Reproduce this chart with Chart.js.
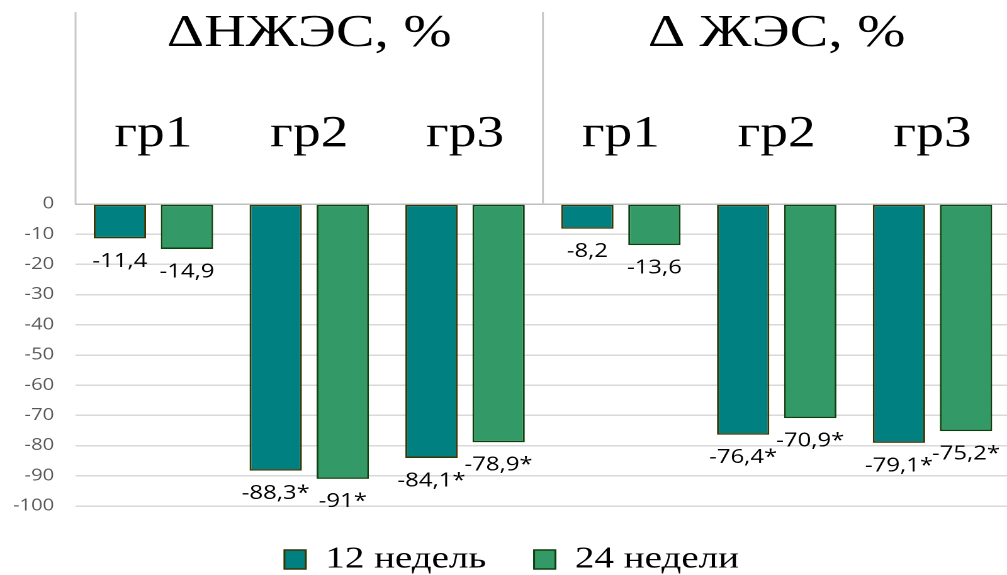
<!DOCTYPE html>
<html lang="ru">
<head>
<meta charset="utf-8">
<title>ΔНЖЭС / ΔЖЭС</title>
<script src="https://cdn.jsdelivr.net/npm/chart.js@4.4.1/dist/chart.umd.min.js"></script>
<style>
  html, body { margin: 0; padding: 0; overflow: hidden; background: #fff; }
  /* the reference is stretched horizontally, so draw narrower and scale */
  #wrap { width: 815px; height: 575px; transform: scaleX(1.25875); transform-origin: 0 0; }
</style>
</head>
<body>
<div id="wrap"><canvas id="chart"></canvas></div>
<script>
const groups = ['ΔНЖЭС, %', 'Δ ЖЭС, %'];
const categories = ['гр1', 'гр2', 'гр3', 'гр1', 'гр2', 'гр3'];
const yTicks = { min: -100, max: 0, step: 10 };

const weeks12 = [-11.4, -88.3, -84.1, -8.2, -76.4, -79.1];
const weeks24 = [-14.9, -91, -78.9, -13.6, -70.9, -75.2];
// * = significant change
const sig12 = [false, true, true, false, true, true];
const sig24 = [false, true, true, false, true, true];

const fmt = (v, s) => String(v).replace('.', ',') + (s ? '*' : '');

const headerPlugin = {
  id: 'header',
  afterDraw(chart) {
    const { ctx, chartArea, scales: { x } } = chart;
    const step = x.getPixelForValue(1) - x.getPixelForValue(0);
    const per = categories.length / groups.length;
    ctx.save();
    ctx.strokeStyle = '#c8c8c8';
    ctx.lineWidth = 1.5;
    ctx.fillStyle = '#000';
    ctx.font = '46px "Liberation Serif", "Times New Roman", serif';
    ctx.textAlign = 'center';
    ctx.textBaseline = 'alphabetic';
    groups.forEach((g, gi) => {
      const left = x.getPixelForValue(gi * per) - step / 2;
      const right = x.getPixelForValue(gi * per + per - 1) + step / 2;
      ctx.beginPath();
      ctx.moveTo(left, 12);
      ctx.lineTo(left, chartArea.top);
      ctx.stroke();
      ctx.fillText(g, (left + right) / 2, 46);
    });
    ctx.restore();
  }
};

const valueLabels = {
  id: 'valueLabels',
  afterDatasetsDraw(chart) {
    const { ctx } = chart;
    const flags = [sig12, sig24];
    ctx.save();
    ctx.fillStyle = '#000';
    ctx.font = '19px "Open Sans", sans-serif';
    ctx.textAlign = 'center';
    ctx.textBaseline = 'middle';
    chart.data.datasets.forEach((ds, di) => {
      chart.getDatasetMeta(di).data.forEach((bar, i) => {
        ctx.fillText(fmt(ds.data[i], flags[di][i]), bar.x, bar.y + 23);
      });
    });
    ctx.restore();
  }
};

new Chart(document.getElementById('chart'), {
  type: 'bar',
  data: {
    labels: categories,
    datasets: [
      {
        label: '12 недель',
        data: weeks12,
        backgroundColor: '#008080',
        borderColor: '#3a3500',
        borderWidth: 1.5,
        borderSkipped: false,
        categoryPercentage: 0.861,
        barPercentage: 0.78
      },
      {
        label: '24 недели',
        data: weeks24,
        backgroundColor: '#339966',
        borderColor: '#0c400c',
        borderWidth: 1.5,
        borderSkipped: false,
        categoryPercentage: 0.861,
        barPercentage: 0.78
      }
    ]
  },
  options: {
    responsive: true,
    maintainAspectRatio: false,
    animation: false,
    devicePixelRatio: 2,
    layout: { padding: { top: 0, left: 0, right: 2, bottom: -10 } },
    plugins: {
      tooltip: { enabled: false },
      legend: {
        position: 'bottom',
        labels: {
          font: { family: '"Liberation Serif", "Times New Roman", serif', size: 31 },
          color: '#000',
          boxWidth: 17,
          boxHeight: 19,
          padding: 38
        }
      }
    },
    scales: {
      x: {
        position: 'top',
        grid: { display: false, drawTicks: false },
        border: { display: true, color: '#bfbfbf', width: 1.5 },
        ticks: {
          font: { family: '"Liberation Serif", "Times New Roman", serif', size: 44 },
          color: '#000',
          padding: 43,
          maxRotation: 0,
          autoSkip: false
        },
        afterFit: (s) => { s.height = 204; }
      },
      y: {
        min: yTicks.min,
        max: yTicks.max,
        ticks: {
          stepSize: yTicks.step,
          font: { family: '"Open Sans", sans-serif', size: 16 },
          color: '#595959',
          padding: 17
        },
        grid: { color: '#d9d9d9', lineWidth: 1.5, drawTicks: false },
        border: { display: false },
        afterFit: (s) => { s.width = 60; }
      }
    }
  },
  plugins: [headerPlugin, valueLabels]
});
</script>
</body>
</html>
